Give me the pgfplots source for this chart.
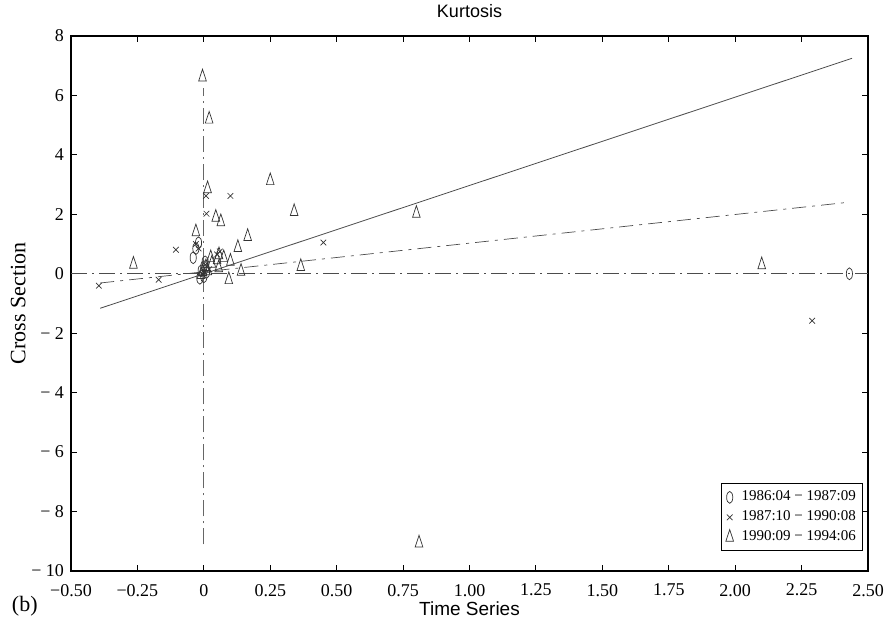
\documentclass[border=0pt]{standalone}
\usepackage{fontspec}
\setmainfont{Liberation Serif}
\newfontfamily\sansf{Liberation Sans}
\usepackage{pgfplots}
\pgfplotsset{compat=1.18}
\begin{document}
\begin{tikzpicture}
\begin{axis}[
  scale only axis,
  width=398.5pt, height=267.5pt,
  xmin=-0.5, xmax=2.5, ymin=-10, ymax=8,
  axis line style={line width=1pt},
  tick style={black, line width=0.5pt},
  tick align=inside,
  major tick length=3pt,
  xtick={-0.5,-0.25,0,0.25,0.5,0.75,1,1.25,1.5,1.75,2,2.25,2.5},
  xticklabels={−0.50,−0.25,0,0.25,0.50,0.75,1.00,1.25,1.50,1.75,2.00,2.25,2.50},
  ytick={-10,-8,-6,-4,-2,0,2,4,6,8},
  yticklabels={− 10,− 8,− 6,− 4,− 2,0,2,4,6,8},
  ticklabel style={font=\fontsize{9}{10}\selectfont},
  xticklabel style={yshift=-3pt},
  title={\sansf Kurtosis},
  title style={font=\fontsize{9}{10}\selectfont, yshift=-0.5pt},
  xlabel={\sansf Time Series},
  xlabel style={font=\fontsize{9.5}{10}\selectfont, yshift=4pt},
  ylabel={Cross Section},
  ylabel style={font=\fontsize{11}{12}\selectfont, yshift=-4pt},
  legend style={at={(0.994,0.037)}, anchor=south east, draw=black, line width=0.4pt,
    font=\fontsize{7.5}{8.5}\selectfont, row sep=0.5pt, inner sep=2pt,
    nodes={inner sep=1.5pt},
    /tikz/every odd column/.style={column sep=2.5pt}},
  legend cell align=left,
  clip=false,
]
% reference lines
\addplot[forget plot, black!70, line width=0.35pt, dash pattern=on 8pt off 2.5pt on 1pt off 2.5pt] coordinates {(-0.5,0) (2.5,0)};
\addplot[forget plot, black!60, line width=0.35pt, dash pattern=on 8pt off 2.5pt on 1pt off 2.5pt] coordinates {(0,-9.1) (0,6.25)};
\addplot[forget plot, black!70, line width=0.4pt] coordinates {(-0.39,-1.16) (2.44,7.25)};
\addplot[forget plot, black!70, line width=0.35pt, dash pattern=on 7pt off 3pt on 1.5pt off 3pt] coordinates {(-0.39,-0.31) (2.41,2.39)};
% series
\addplot[only marks, mark=o, mark size=2.2pt, mark options={black!80, line width=0.35pt, xscale=0.7, yscale=1.35}] coordinates {
(2.43,0) (-0.02,1.04) (-0.04,0.54) (-0.03,0.85) (0.00,-0.1) (0.00,0.24)
(-0.01,0.1) (0.01,0.05) (-0.015,-0.15) (0.005,0.4)
};
\addlegendentry{1986:04 − 1987:09}
\addplot[only marks, mark=x, mark size=2pt, mark options={black!80, line width=0.35pt}] coordinates {
(2.29,-1.58) (0.45,1.05) (0.10,2.62) (0.008,2.62) (0.01,2.02) (-0.105,0.81)
(-0.395,-0.4) (-0.17,-0.2) (-0.03,1.0) (-0.02,0.85) (0.005,0.3) (0.05,0.65)
(0.06,0.75) (0.02,0.15) (-0.005,0.0)
};
\addlegendentry{1987:10 − 1990:08}
\addplot[only marks, mark=triangle, mark size=2.6pt, mark options={black!80, line width=0.35pt, xscale=0.85, yscale=1.5}] coordinates {
(-0.005,6.62) (0.02,5.2) (0.25,3.13) (0.014,2.86) (0.34,2.09) (0.80,2.03)
(0.045,1.9) (0.064,1.75) (0.165,1.25) (0.128,0.88) (-0.03,1.41) (0.057,0.64)
(0.05,0.47) (0.075,0.54) (0.10,0.42) (0.026,0.54) (0.008,0.24) (-0.004,0.07)
(-0.01,-0.03) (0.056,0.2) (0.094,-0.2) (0.14,0.08) (-0.265,0.32) (0.365,0.24)
(2.10,0.3) (0.81,-9.06) (0.03,0.35) (0.015,0.1)
};
\addlegendentry{1990:09 − 1994:06}
\node[font=\fontsize{11}{12}\selectfont] at (rel axis cs:-0.058,-0.065) {(b)};
\end{axis}
\pgfresetboundingbox
\path ([shift={(-35.5pt,-30pt)}]current axis.south west) rectangle ([shift={(9.5pt,18pt)}]current axis.north east);
\end{tikzpicture}
\end{document}
